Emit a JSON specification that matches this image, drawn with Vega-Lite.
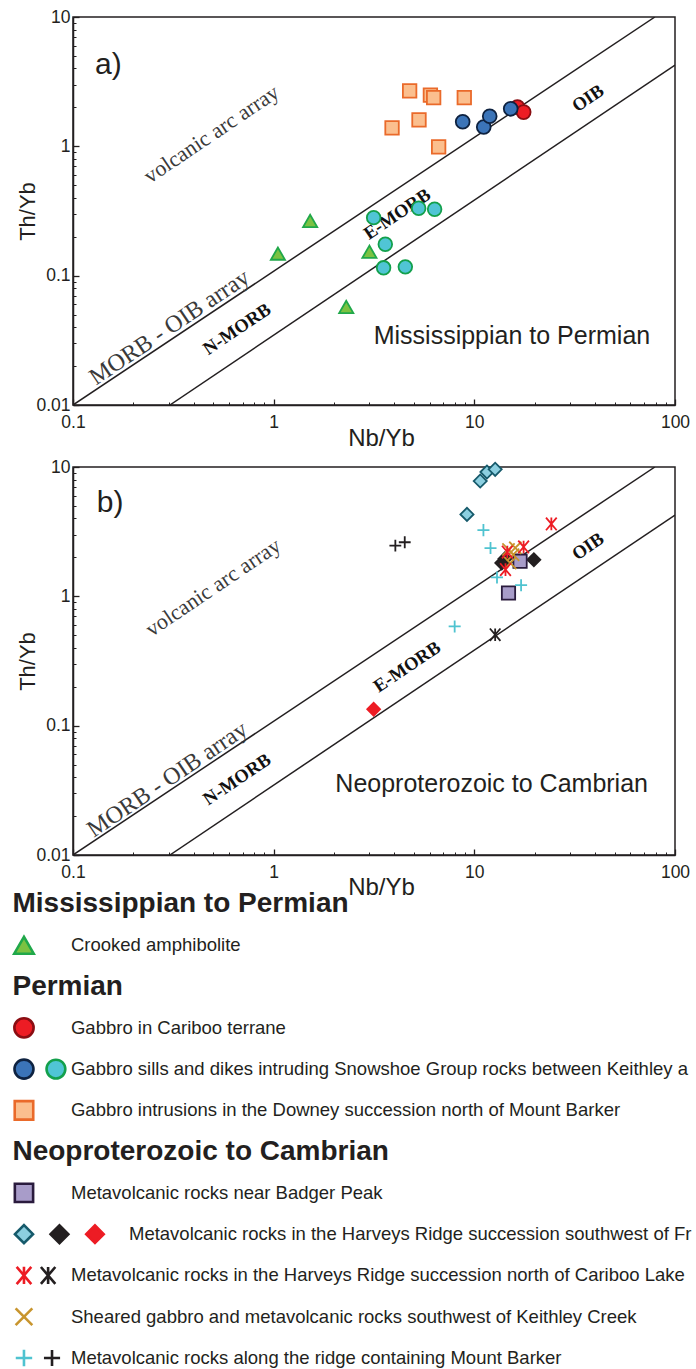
{
  "$schema": "https://vega.github.io/schema/vega-lite/v6.json",
  "background": "white",
  "padding": {"left": 9, "top": 7, "right": 0, "bottom": 0},
  "bounds": "flush",
  "spacing": 62,
  "resolve": {"scale": {"size": "independent"}},
  "config": {
    "view": {"stroke": "#231f20", "strokeWidth": 1.5},
    "axis": {
      "grid": false,
      "domainColor": "#231f20",
      "domainWidth": 1.5,
      "tickColor": "#231f20",
      "tickWidth": 1.3,
      "labelColor": "#231f20",
      "labelFont": "Liberation Sans",
      "labelFontSize": 17.5,
      "labelFlush": false,
      "labelOverlap": false,
      "titleFont": "Liberation Sans",
      "titleFontWeight": "normal",
      "titleColor": "#231f20"
    }
  },
  "datasets": {
    "arrays": [
      {"line": "upper", "nb": 0.1, "th": 0.01},
      {"line": "upper", "nb": 79.4, "th": 10},
      {"line": "lower", "nb": 0.304, "th": 0.01},
      {"line": "lower", "nb": 100, "th": 4.25}
    ],
    "pa": [
      {"s": "tri", "nb": 1.05, "th": 0.148},
      {"s": "tri", "nb": 1.52, "th": 0.265},
      {"s": "tri", "nb": 2.3, "th": 0.0573},
      {"s": "tri", "nb": 3.0, "th": 0.153},
      {"s": "orsq", "nb": 4.76, "th": 2.68},
      {"s": "orsq", "nb": 6.04, "th": 2.49},
      {"s": "orsq", "nb": 6.27, "th": 2.38},
      {"s": "orsq", "nb": 8.91, "th": 2.38},
      {"s": "orsq", "nb": 5.3, "th": 1.6},
      {"s": "orsq", "nb": 3.89, "th": 1.39},
      {"s": "orsq", "nb": 6.64, "th": 0.99},
      {"s": "tealc", "nb": 3.15, "th": 0.281},
      {"s": "tealc", "nb": 5.28, "th": 0.332},
      {"s": "tealc", "nb": 6.34, "th": 0.326},
      {"s": "tealc", "nb": 3.6, "th": 0.175},
      {"s": "tealc", "nb": 3.53, "th": 0.115},
      {"s": "tealc", "nb": 4.53, "th": 0.117},
      {"s": "redc", "nb": 16.4, "th": 2.01},
      {"s": "redc", "nb": 17.6, "th": 1.84},
      {"s": "bluec", "nb": 8.75, "th": 1.55},
      {"s": "bluec", "nb": 11.14, "th": 1.41},
      {"s": "bluec", "nb": 11.93, "th": 1.71},
      {"s": "bluec", "nb": 15.18, "th": 1.95}
    ],
    "pb": [
      {"s": "lbdia", "nb": 10.7, "th": 7.79},
      {"s": "lbdia", "nb": 11.56, "th": 9.15},
      {"s": "lbdia", "nb": 12.7, "th": 9.6},
      {"s": "lbdia", "nb": 9.19, "th": 4.3},
      {"s": "bkdia", "nb": 13.7, "th": 1.81},
      {"s": "bkdia", "nb": 14.2, "th": 1.95},
      {"s": "bkdia", "nb": 19.8, "th": 1.92},
      {"s": "rddia", "nb": 3.15, "th": 0.134},
      {"s": "pursq", "nb": 16.9, "th": 1.87},
      {"s": "pursq", "nb": 14.8, "th": 1.06},
      {"s": "gdx", "nb": 14.8, "th": 2.3},
      {"s": "gdx", "nb": 16.0, "th": 2.37},
      {"s": "gdx", "nb": 15.1, "th": 1.81},
      {"s": "gdx", "nb": 15.6, "th": 2.1},
      {"s": "rdast", "nb": 24.2, "th": 3.63},
      {"s": "rdast", "nb": 17.6, "th": 2.41},
      {"s": "rdast", "nb": 14.3, "th": 1.61},
      {"s": "rdast", "nb": 14.6, "th": 2.2},
      {"s": "bkast", "nb": 12.7, "th": 0.505},
      {"s": "cyplus", "nb": 11.1, "th": 3.25},
      {"s": "cyplus", "nb": 12.04, "th": 2.36},
      {"s": "cyplus", "nb": 12.97, "th": 1.4},
      {"s": "cyplus", "nb": 17.1, "th": 1.22},
      {"s": "cyplus", "nb": 7.98, "th": 0.585},
      {"s": "bkplus", "nb": 4.04, "th": 2.47},
      {"s": "bkplus", "nb": 4.5, "th": 2.62}
    ],
    "ta": [
      {"nb": 0.49, "th": 1.245, "t": "volcanic arc array", "k": "serif"},
      {"nb": 0.303, "th": 0.0397, "t": "MORB - OIB array", "k": "serif"},
      {"nb": 0.656, "th": 0.0387, "t": "N-MORB", "k": "bold"},
      {"nb": 4.12, "th": 0.3, "t": "E-MORB", "k": "bold"},
      {"nb": 36.8, "th": 2.36, "t": "OIB", "k": "bold"},
      {"nb": 0.15, "th": 4.25, "t": "a)", "k": "label"},
      {"nb": 15.4, "th": 0.0341, "t": "Mississippian to Permian", "k": "title"}
    ],
    "tb": [
      {"nb": 0.499, "th": 1.175, "t": "volcanic arc array", "k": "serif"},
      {"nb": 0.296, "th": 0.0382, "t": "MORB - OIB array", "k": "serif"},
      {"nb": 0.656, "th": 0.0385, "t": "N-MORB", "k": "bold"},
      {"nb": 4.62, "th": 0.286, "t": "E-MORB", "k": "bold"},
      {"nb": 36.8, "th": 2.44, "t": "OIB", "k": "bold"},
      {"nb": 0.153, "th": 5.26, "t": "b)", "k": "label"},
      {"nb": 12.2, "th": 0.0355, "t": "Neoproterozoic to Cambrian", "k": "title"}
    ],
    "legsym": [
      {"row": 1, "slot": 0, "s": "tri"},
      {"row": 3, "slot": 0, "s": "redc"},
      {"row": 4, "slot": 0, "s": "bluec"},
      {"row": 4, "slot": 0.9, "s": "tealc"},
      {"row": 5, "slot": 0, "s": "orsq"},
      {"row": 7, "slot": 0, "s": "pursq"},
      {"row": 8, "slot": 0, "s": "lbdia"},
      {"row": 8, "slot": 1, "s": "bkdia"},
      {"row": 8, "slot": 2, "s": "rddia"},
      {"row": 9, "slot": 0, "s": "rdast"},
      {"row": 9, "slot": 0.68, "s": "bkast"},
      {"row": 10, "slot": 0, "s": "gdx"},
      {"row": 11, "slot": 0, "s": "cyplus"},
      {"row": 11, "slot": 0.79, "s": "bkplus"}
    ],
    "legtext": [
      {"row": 0, "slot": -0.324, "t": "Mississippian to Permian", "k": "h"},
      {"row": 1, "slot": 1.324, "t": "Crooked amphibolite", "k": "i"},
      {"row": 2, "slot": -0.324, "t": "Permian", "k": "h"},
      {"row": 3, "slot": 1.324, "t": "Gabbro in Cariboo terrane", "k": "i"},
      {"row": 4, "slot": 1.324, "t": "Gabbro sills and dikes intruding Snowshoe Group rocks between Keithley an", "k": "i"},
      {"row": 5, "slot": 1.324, "t": "Gabbro intrusions in the Downey succession north of Mount Barker", "k": "i"},
      {"row": 6, "slot": -0.324, "t": "Neoproterozoic to Cambrian", "k": "h"},
      {"row": 7, "slot": 1.324, "t": "Metavolcanic rocks near Badger Peak", "k": "i"},
      {"row": 8, "slot": 2.958, "t": "Metavolcanic rocks in the Harveys Ridge succession southwest of Fra", "k": "w"},
      {"row": 9, "slot": 1.324, "t": "Metavolcanic rocks in the Harveys Ridge succession north of Cariboo Lake", "k": "i"},
      {"row": 10, "slot": 1.324, "t": "Sheared gabbro and metavolcanic rocks southwest of Keithley Creek", "k": "i"},
      {"row": 11, "slot": 1.324, "t": "Metavolcanic rocks along the ridge containing Mount Barker", "k": "i"}
    ]
  },
  "vconcat": [
    {
      "width": 602,
      "height": 388,
      "resolve": {"axis": {"x": "independent", "y": "independent"}},
      "layer": [
        {
          "data": {"name": "arrays"},
          "mark": {"type": "line", "color": "#231f20", "strokeWidth": 1.5, "clip": true},
          "encoding": {
            "x": {"field": "nb", "type": "quantitative", "scale": {"type": "log", "domain": [0.1, 100], "nice": false},
                  "axis": {"values": [0.1, 1, 10, 100], "format": "~g", "title": "Nb/Yb", "tickSize": -6, "labelPadding": 14, "labelDx": 3, "titleFontSize": 24, "titleX": 308, "titleY": 33, "titleBaseline": "middle"}},
            "y": {"field": "th", "type": "quantitative", "scale": {"type": "log", "domain": [0.01, 10], "nice": false},
                  "axis": {"values": [0.01, 0.1, 1, 10], "format": "~g", "title": "Th/Yb", "tickSize": -6, "labelPadding": 9, "titleFontSize": 22, "titleX": -46, "titleBaseline": "middle"}},
            "detail": {"field": "line"}
          }
        },
        {
          "data": {"name": "ta"},
          "transform": [{"filter": "datum.k == 'serif'"}],
          "mark": {"type": "text", "font": "Liberation Serif", "angle": 326, "color": "#3a3a3a"},
          "encoding": {
            "x": {"field": "nb", "type": "quantitative", "axis": null},
            "y": {"field": "th", "type": "quantitative", "axis": null},
            "text": {"field": "t"},
            "size": {"condition": {"test": "datum.t == 'MORB - OIB array'", "value": 24}, "value": 22}
          }
        },
        {
          "data": {"name": "ta"},
          "transform": [{"filter": "datum.k == 'bold'"}],
          "mark": {"type": "text", "font": "Liberation Serif", "fontWeight": "bold", "fontSize": 18.5, "angle": 326, "color": "#111111"},
          "encoding": {
            "x": {"field": "nb", "type": "quantitative", "axis": null},
            "y": {"field": "th", "type": "quantitative", "axis": null},
            "text": {"field": "t"}
          }
        },
        {
          "data": {"name": "ta"},
          "transform": [{"filter": "datum.k == 'label'"}],
          "mark": {"type": "text", "font": "Liberation Sans", "fontSize": 30, "color": "#231f20"},
          "encoding": {
            "x": {"field": "nb", "type": "quantitative", "axis": null},
            "y": {"field": "th", "type": "quantitative", "axis": null},
            "text": {"field": "t"}
          }
        },
        {
          "data": {"name": "ta"},
          "transform": [{"filter": "datum.k == 'title'"}],
          "mark": {"type": "text", "font": "Liberation Sans", "fontSize": 25, "color": "#231f20"},
          "encoding": {
            "x": {"field": "nb", "type": "quantitative", "axis": null},
            "y": {"field": "th", "type": "quantitative", "axis": null},
            "text": {"field": "t"}
          }
        },
        {
          "data": {"name": "pa"},
          "mark": {"type": "point", "filled": true, "opacity": 1, "strokeWidth": 1.8},
          "encoding": {
            "x": {"field": "nb", "type": "quantitative",
                  "axis": {"orient": "bottom", "values": [0.2, 0.3, 0.4, 0.5, 0.6, 0.7, 0.8, 0.9, 2, 3, 4, 5, 6, 7, 8, 9, 20, 30, 40, 50, 60, 70, 80, 90], "labels": false, "domain": false, "tickSize": -3, "tickWidth": 1, "title": null}},
            "y": {"field": "th", "type": "quantitative",
                  "axis": {"orient": "left", "values": [0.02, 0.03, 0.04, 0.05, 0.06, 0.07, 0.08, 0.09, 0.2, 0.3, 0.4, 0.5, 0.6, 0.7, 0.8, 0.9, 2, 3, 4, 5, 6, 7, 8, 9], "labels": false, "domain": false, "tickSize": -3, "tickWidth": 1, "title": null}},
            "shape": {"field": "s", "type": "nominal", "legend": null,
                      "scale": {"domain": ["tri", "redc", "bluec", "tealc", "orsq", "pursq", "lbdia", "bkdia", "rddia", "rdast", "bkast", "gdx", "cyplus", "bkplus"],
                                "range": ["triangle-up", "circle", "circle", "circle", "square", "square", "diamond", "diamond", "diamond", "M-0.85,-1L0.85,1M-0.85,1L0.85,-1M0,-1L0,1", "M-0.85,-1L0.85,1M-0.85,1L0.85,-1M0,-1L0,1", "M-1,-1L1,1M-1,1L1,-1", "M-1,0L1,0M0,-1L0,1", "M-1,0L1,0M0,-1L0,1"]}},
            "fill": {"field": "s", "type": "nominal", "legend": null,
                     "scale": {"domain": ["tri", "redc", "bluec", "tealc", "orsq", "pursq", "lbdia", "bkdia", "rddia", "rdast", "bkast", "gdx", "cyplus", "bkplus"],
                               "range": ["#7cc242", "#ed1c24", "#3b74b8", "#50c5d5", "#fbbf8e", "#a89cc9", "#8ccfe0", "#231f20", "#ed1c24", "transparent", "transparent", "transparent", "transparent", "transparent"]}},
            "stroke": {"field": "s", "type": "nominal", "legend": null,
                       "scale": {"domain": ["tri", "redc", "bluec", "tealc", "orsq", "pursq", "lbdia", "bkdia", "rddia", "rdast", "bkast", "gdx", "cyplus", "bkplus"],
                                 "range": ["#20a84a", "#8a0d12", "#0e2240", "#13a04c", "#ea6a2a", "#2a1b3d", "#165a6b", "#231f20", "#ed1c24", "#ed1c24", "#231f20", "#c8952e", "#4fc3d0", "#231f20"]}},
            "size": {"field": "s", "type": "nominal", "legend": null,
                     "scale": {"domain": ["tri", "redc", "bluec", "tealc", "orsq", "pursq", "lbdia", "bkdia", "rddia", "rdast", "bkast", "gdx", "cyplus", "bkplus"],
                               "range": [200, 140, 140, 140, 130, 130, 260, 260, 260, 144, 144, 121, 150, 150]}}
          }
        }
      ]
    },
    {
      "width": 602,
      "height": 388,
      "resolve": {"axis": {"x": "independent", "y": "independent"}},
      "layer": [
        {
          "data": {"name": "arrays"},
          "mark": {"type": "line", "color": "#231f20", "strokeWidth": 1.5, "clip": true},
          "encoding": {
            "x": {"field": "nb", "type": "quantitative", "scale": {"type": "log", "domain": [0.1, 100], "nice": false},
                  "axis": {"values": [0.1, 1, 10, 100], "format": "~g", "title": "Nb/Yb", "tickSize": -6, "labelPadding": 14, "labelDx": 3, "titleFontSize": 24, "titleX": 308, "titleY": 32, "titleBaseline": "middle"}},
            "y": {"field": "th", "type": "quantitative", "scale": {"type": "log", "domain": [0.01, 10], "nice": false},
                  "axis": {"values": [0.01, 0.1, 1, 10], "format": "~g", "title": "Th/Yb", "tickSize": -6, "labelPadding": 9, "titleFontSize": 22, "titleX": -46, "titleBaseline": "middle"}},
            "detail": {"field": "line"}
          }
        },
        {
          "data": {"name": "tb"},
          "transform": [{"filter": "datum.k == 'serif'"}],
          "mark": {"type": "text", "font": "Liberation Serif", "angle": 326, "color": "#3a3a3a"},
          "encoding": {
            "x": {"field": "nb", "type": "quantitative", "axis": null},
            "y": {"field": "th", "type": "quantitative", "axis": null},
            "text": {"field": "t"},
            "size": {"condition": {"test": "datum.t == 'MORB - OIB array'", "value": 24}, "value": 22}
          }
        },
        {
          "data": {"name": "tb"},
          "transform": [{"filter": "datum.k == 'bold'"}],
          "mark": {"type": "text", "font": "Liberation Serif", "fontWeight": "bold", "fontSize": 18.5, "angle": 326, "color": "#111111"},
          "encoding": {
            "x": {"field": "nb", "type": "quantitative", "axis": null},
            "y": {"field": "th", "type": "quantitative", "axis": null},
            "text": {"field": "t"}
          }
        },
        {
          "data": {"name": "tb"},
          "transform": [{"filter": "datum.k == 'label'"}],
          "mark": {"type": "text", "font": "Liberation Sans", "fontSize": 30, "color": "#231f20"},
          "encoding": {
            "x": {"field": "nb", "type": "quantitative", "axis": null},
            "y": {"field": "th", "type": "quantitative", "axis": null},
            "text": {"field": "t"}
          }
        },
        {
          "data": {"name": "tb"},
          "transform": [{"filter": "datum.k == 'title'"}],
          "mark": {"type": "text", "font": "Liberation Sans", "fontSize": 25, "color": "#231f20"},
          "encoding": {
            "x": {"field": "nb", "type": "quantitative", "axis": null},
            "y": {"field": "th", "type": "quantitative", "axis": null},
            "text": {"field": "t"}
          }
        },
        {
          "data": {"name": "pb"},
          "mark": {"type": "point", "filled": true, "opacity": 1, "strokeWidth": 1.8},
          "encoding": {
            "x": {"field": "nb", "type": "quantitative",
                  "axis": {"orient": "bottom", "values": [0.2, 0.3, 0.4, 0.5, 0.6, 0.7, 0.8, 0.9, 2, 3, 4, 5, 6, 7, 8, 9, 20, 30, 40, 50, 60, 70, 80, 90], "labels": false, "domain": false, "tickSize": -3, "tickWidth": 1, "title": null}},
            "y": {"field": "th", "type": "quantitative",
                  "axis": {"orient": "left", "values": [0.02, 0.03, 0.04, 0.05, 0.06, 0.07, 0.08, 0.09, 0.2, 0.3, 0.4, 0.5, 0.6, 0.7, 0.8, 0.9, 2, 3, 4, 5, 6, 7, 8, 9], "labels": false, "domain": false, "tickSize": -3, "tickWidth": 1, "title": null}},
            "shape": {"field": "s", "type": "nominal", "legend": null,
                      "scale": {"domain": ["tri", "redc", "bluec", "tealc", "orsq", "pursq", "lbdia", "bkdia", "rddia", "rdast", "bkast", "gdx", "cyplus", "bkplus"],
                                "range": ["triangle-up", "circle", "circle", "circle", "square", "square", "diamond", "diamond", "diamond", "M-0.85,-1L0.85,1M-0.85,1L0.85,-1M0,-1L0,1", "M-0.85,-1L0.85,1M-0.85,1L0.85,-1M0,-1L0,1", "M-1,-1L1,1M-1,1L1,-1", "M-1,0L1,0M0,-1L0,1", "M-1,0L1,0M0,-1L0,1"]}},
            "fill": {"field": "s", "type": "nominal", "legend": null,
                     "scale": {"domain": ["tri", "redc", "bluec", "tealc", "orsq", "pursq", "lbdia", "bkdia", "rddia", "rdast", "bkast", "gdx", "cyplus", "bkplus"],
                               "range": ["#7cc242", "#ed1c24", "#3b74b8", "#50c5d5", "#fbbf8e", "#a89cc9", "#8ccfe0", "#231f20", "#ed1c24", "transparent", "transparent", "transparent", "transparent", "transparent"]}},
            "stroke": {"field": "s", "type": "nominal", "legend": null,
                       "scale": {"domain": ["tri", "redc", "bluec", "tealc", "orsq", "pursq", "lbdia", "bkdia", "rddia", "rdast", "bkast", "gdx", "cyplus", "bkplus"],
                                 "range": ["#20a84a", "#8a0d12", "#0e2240", "#13a04c", "#ea6a2a", "#2a1b3d", "#165a6b", "#231f20", "#ed1c24", "#ed1c24", "#231f20", "#c8952e", "#4fc3d0", "#231f20"]}},
            "size": {"field": "s", "type": "nominal", "legend": null,
                     "scale": {"domain": ["tri", "redc", "bluec", "tealc", "orsq", "pursq", "lbdia", "bkdia", "rddia", "rdast", "bkast", "gdx", "cyplus", "bkplus"],
                               "range": [200, 140, 140, 140, 130, 130, 260, 260, 260, 144, 144, 121, 150, 150]}}
          }
        }
      ]
    },
    {
      "width": 602,
      "height": 441,
      "view": {"stroke": null},
      "layer": [
        {
          "data": {"name": "legsym"},
          "mark": {"type": "point", "filled": true, "opacity": 1, "strokeWidth": 2.6},
          "encoding": {
            "x": {"field": "slot", "type": "quantitative", "scale": {"domain": [1.381, 18.339], "nice": false, "zero": false}, "axis": null},
            "y": {"field": "row", "type": "quantitative", "scale": {"domain": [0.315, 11], "nice": false, "zero": false, "reverse": true}, "axis": null},
            "shape": {"field": "s", "type": "nominal", "legend": null,
                      "scale": {"domain": ["tri", "redc", "bluec", "tealc", "orsq", "pursq", "lbdia", "bkdia", "rddia", "rdast", "bkast", "gdx", "cyplus", "bkplus"],
                                "range": ["triangle-up", "circle", "circle", "circle", "square", "square", "diamond", "diamond", "diamond", "M-0.85,-1L0.85,1M-0.85,1L0.85,-1M0,-1L0,1", "M-0.85,-1L0.85,1M-0.85,1L0.85,-1M0,-1L0,1", "M-1,-1L1,1M-1,1L1,-1", "M-1,0L1,0M0,-1L0,1", "M-1,0L1,0M0,-1L0,1"]}},
            "fill": {"field": "s", "type": "nominal", "legend": null,
                     "scale": {"domain": ["tri", "redc", "bluec", "tealc", "orsq", "pursq", "lbdia", "bkdia", "rddia", "rdast", "bkast", "gdx", "cyplus", "bkplus"],
                               "range": ["#7cc242", "#ed1c24", "#3b74b8", "#50c5d5", "#fbbf8e", "#a89cc9", "#8ccfe0", "#231f20", "#ed1c24", "transparent", "transparent", "transparent", "transparent", "transparent"]}},
            "stroke": {"field": "s", "type": "nominal", "legend": null,
                       "scale": {"domain": ["tri", "redc", "bluec", "tealc", "orsq", "pursq", "lbdia", "bkdia", "rddia", "rdast", "bkast", "gdx", "cyplus", "bkplus"],
                                 "range": ["#20a84a", "#8a0d12", "#0e2240", "#13a04c", "#ea6a2a", "#2a1b3d", "#165a6b", "#231f20", "#ed1c24", "#ed1c24", "#231f20", "#c8952e", "#4fc3d0", "#231f20"]}},
            "size": {"field": "s", "type": "nominal", "legend": null,
                     "scale": {"domain": ["tri", "redc", "bluec", "tealc", "orsq", "pursq", "lbdia", "bkdia", "rddia", "rdast", "bkast", "gdx", "cyplus", "bkplus"],
                               "range": [380, 260, 260, 260, 280, 260, 360, 360, 360, 300, 260, 290, 300, 300]}}
          }
        },
        {
          "data": {"name": "legtext"},
          "transform": [{"filter": "datum.k == 'h'"}],
          "mark": {"type": "text", "font": "Liberation Sans", "fontWeight": "bold", "fontSize": 28, "align": "left", "baseline": "middle", "color": "#231f20"},
          "encoding": {
            "x": {"field": "slot", "type": "quantitative", "axis": null},
            "y": {"field": "row", "type": "quantitative", "axis": null},
            "text": {"field": "t"}
          }
        },
        {
          "data": {"name": "legtext"},
          "transform": [{"filter": "datum.k == 'i'"}],
          "mark": {"type": "text", "font": "Liberation Sans", "fontSize": 18.5, "align": "left", "baseline": "middle", "color": "#231f20", "limit": 624, "ellipsis": "\u200b"},
          "encoding": {
            "x": {"field": "slot", "type": "quantitative", "axis": null},
            "y": {"field": "row", "type": "quantitative", "axis": null},
            "text": {"field": "t"}
          }
        },
        {
          "data": {"name": "legtext"},
          "transform": [{"filter": "datum.k == 'w'"}],
          "mark": {"type": "text", "font": "Liberation Sans", "fontSize": 18.5, "align": "left", "baseline": "middle", "color": "#231f20", "limit": 566, "ellipsis": "\u200b"},
          "encoding": {
            "x": {"field": "slot", "type": "quantitative", "axis": null},
            "y": {"field": "row", "type": "quantitative", "axis": null},
            "text": {"field": "t"}
          }
        }
      ]
    }
  ]
}
